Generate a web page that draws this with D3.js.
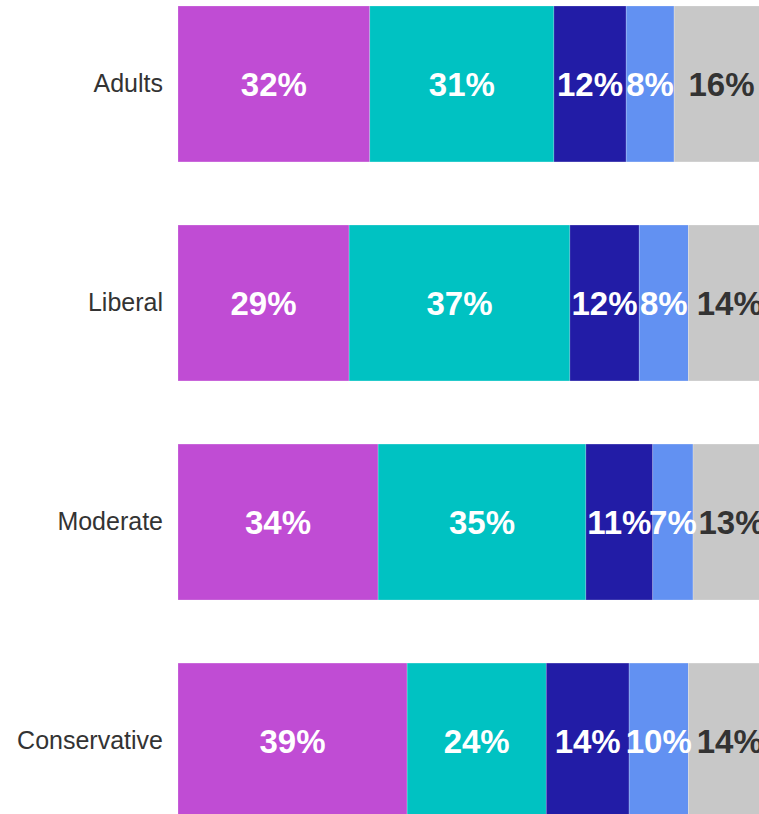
<!DOCTYPE html>
<html>
<head>
<meta charset="utf-8">
<script src="https://cdn.jsdelivr.net/npm/d3@7"></script>
<style>
  body { margin: 0; background: #fff; overflow: hidden; }
  svg { display: block; }
</style>
</head>
<body>
<svg id="chart" width="759" height="814"></svg>
<script>
const groups = ["Adults", "Liberal", "Moderate", "Conservative"];
const keys = ["a", "b", "c", "d", "e"];
const colors = ["#c04cd4", "#00c2c2", "#221ca6", "#6291f2", "#c8c8c8"];
const labelColors = ["#fff", "#fff", "#fff", "#fff", "#333"];

// shares in percent (labels show them rounded)
const valA = [32.4, 28.9, 33.8, 38.7];
const valB = [31.1, 37.3, 35.1, 23.5];
const valC = [12.2, 11.7, 11.3, 14.0];
const valD = [8.1, 8.3, 6.8, 10.0];
const valE = [16, 14, 13, 14];

const rows = groups.map((g, i) => ({
  group: g, a: valA[i], b: valB[i], c: valC[i], d: valD[i], e: valE[i]
}));

const svg = d3.select("#chart");

const xScale = d3.scaleLinear()
  .domain([0, 100])
  .range([178, 770]);

const yScale = d3.scaleBand()
  .domain(groups)
  .range([6, 819])
  .paddingInner(0.288)
  .paddingOuter(0);

const stacked = d3.stack().keys(keys)(rows);

const layers = svg.selectAll(".layer")
  .data(stacked)
  .enter().append("g")
  .attr("class", "layer")
  .attr("fill", (d, i) => colors[i]);

layers.selectAll("rect")
  .data(d => d)
  .enter().append("rect")
  .attr("x", d => xScale(d[0]))
  .attr("y", d => yScale(d.data.group))
  .attr("width", d => xScale(d[1]) - xScale(d[0]))
  .attr("height", yScale.bandwidth())
  .attr("stroke", "#fff")
  .attr("stroke-opacity", 0.35)
  .attr("stroke-width", 0.6);

const pct = d3.format(".0f");

stacked.forEach((layer, i) => {
  svg.append("g")
    .selectAll("text")
    .data(layer)
    .enter().append("text")
    .attr("x", d => (xScale(d[0]) + xScale(d[1])) / 2)
    .attr("y", d => yScale(d.data.group) + yScale.bandwidth() / 2)
    .attr("dy", "0.36em")
    .attr("text-anchor", "middle")
    .attr("font-family", "Liberation Sans, Arial, sans-serif")
    .attr("font-weight", "bold")
    .attr("font-size", 33)
    .attr("fill", labelColors[i])
    .text(d => pct(d[1] - d[0]) + "%");
});

const yAxis = d3.axisLeft(yScale).tickSize(0).tickPadding(15);

svg.append("g")
  .attr("transform", `translate(${xScale(0)}, 0)`)
  .call(yAxis)
  .call(g => g.select(".domain").remove())
  .selectAll("text")
  .attr("font-family", "Liberation Sans, Arial, sans-serif")
  .attr("font-size", 25)
  .attr("fill", "#333");
</script>
</body>
</html>
